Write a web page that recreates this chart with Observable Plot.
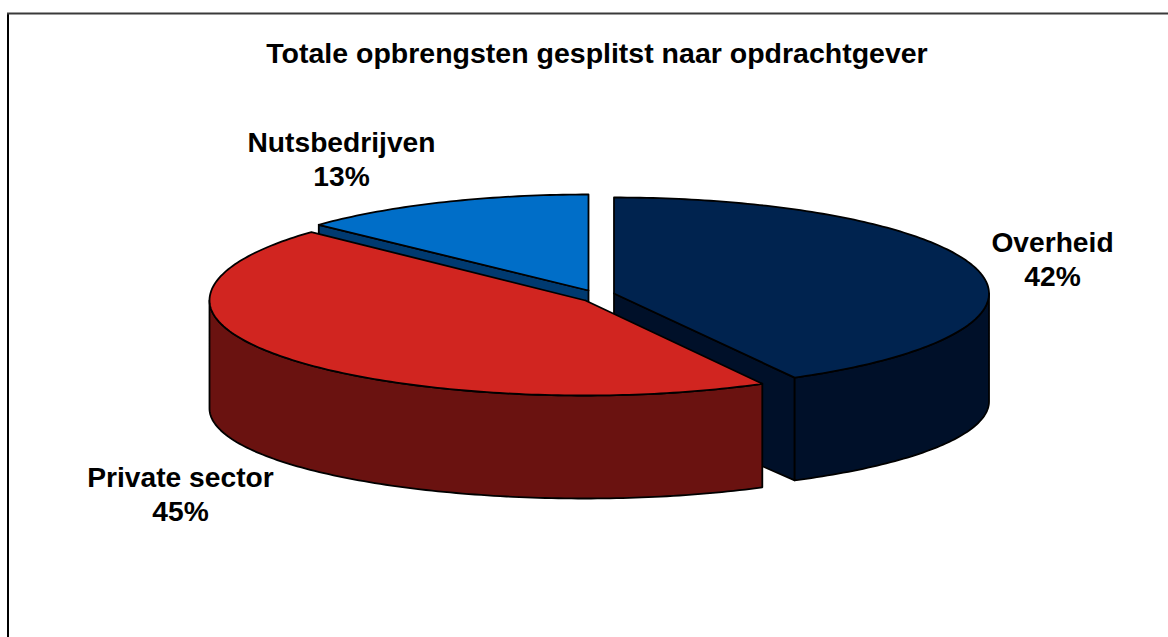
<!DOCTYPE html>
<html>
<head>
<meta charset="utf-8">
<script src="https://cdn.jsdelivr.net/npm/d3@7"></script>
<script src="https://cdn.jsdelivr.net/npm/@observablehq/plot@0.6"></script>
<style>
html,body{margin:0;padding:0;background:#fff}
svg{display:block}
</style>
</head>
<body>
<div id="chart"></div>
<script>
// Data
const title = "Totale opbrengsten gesplitst naar opdrachtgever";
const categories = ["Overheid", "Private sector", "Nutsbedrijven"];
const shares = [42, 45, 13];
const topColors = ["#00234f", "#d12520", "#006ec8"];
const sideColors = ["#001029", "#6a1210", "#003a70"];

// Projection of each exploded slice of the tilted pie
const projection = [
  {cx: 613.5, cy: 293, left: 375, right: 375, far: 96, near: 96},
  {cx: 585, cy: 300, left: 376, right: 367, far: 100, near: 95},
  {cx: 588, cy: 290, left: 370, right: 370, far: 96, near: 96}
];
const depth = 108, baseRy = 90;
const labelX = [1052, 180, 341];
const labelY = [258, 493, 158];

const rad = d => d * Math.PI / 180;
const ends = Array.from(d3.cumsum(shares), s => s * 3.6);
const starts = [0, ...ends.slice(0, -1)];

const rimPoint = (p, a) => {
  const s = Math.sin(rad(a)), c = Math.cos(rad(a));
  return {x: p.cx + (s >= 0 ? p.right : p.left) * s, y: p.cy - (c >= 0 ? p.far : p.near) * c};
};
const basePoint = (p, a) => {
  const s = Math.sin(rad(a)), c = Math.cos(rad(a));
  return {x: p.cx + (s >= 0 ? p.right : p.left) * s, y: p.cy + depth - baseRy * c};
};
const arc = (f, p, a0, a1) => {
  const n = Math.max(2, Math.ceil(Math.abs(a1 - a0)));
  return d3.range(n + 1).map(i => f(p, a0 + (a1 - a0) * i / n));
};
const closed = pts => [...pts, pts[0]];

const topFace = i => {
  const p = projection[i];
  return closed([{x: p.cx, y: p.cy}, ...arc(rimPoint, p, starts[i], ends[i])]);
};
const wall = (i, a0, a1) => {
  const p = projection[i];
  return closed([...arc(rimPoint, p, a0, a1), ...arc(basePoint, p, a1, a0)]);
};
const cut = (i, a) => {
  const p = projection[i];
  const r = rimPoint(p, a), b = basePoint(p, a);
  return closed([{x: p.cx, y: p.cy}, r, b, {x: p.cx, y: p.cy + depth}]);
};

const face = (pts, fill) => Plot.line(pts, {
  x: "x", y: "y", fill, stroke: "#000", strokeWidth: 1.8, curve: "linear"
});

const textStyle = {fontFamily: "Liberation Sans, Arial, sans-serif", fontWeight: "bold", fill: "#000"};

const chart = Plot.plot({
  width: 1168, height: 637,
  margin: 0,
  x: {domain: [0, 1168], range: [0, 1168], axis: null},
  y: {domain: [0, 637], range: [0, 637], axis: null},
  marks: [
    Plot.ruleX([7.5], {y1: 13, y2: 637, stroke: "#000", strokeWidth: 2}),
    Plot.ruleY([13], {x1: 7, x2: 1168, stroke: "#3a3a3a", strokeWidth: 2}),
    // back to front
    face(cut(2, ends[1]), sideColors[2]),
    face(topFace(2), topColors[2]),
    face(cut(0, ends[0]), sideColors[0]),
    face(wall(0, 90, ends[0]), sideColors[0]),
    face(topFace(0), topColors[0]),
    face(wall(1, starts[1], 270), sideColors[1]),
    face(topFace(1), topColors[1]),
    Plot.text([title], {x: () => 596.5, y: () => 53, text: d => d, fontSize: 28.5, ...textStyle}),
    Plot.text(categories, {
      x: (d, i) => labelX[i], y: (d, i) => labelY[i],
      text: (d, i) => `${d}\n${shares[i]}%`,
      lineHeight: 1.21, fontSize: 28.2, textAnchor: "middle", ...textStyle
    })
  ]
});
document.getElementById("chart").append(chart);
</script>
</body>
</html>
